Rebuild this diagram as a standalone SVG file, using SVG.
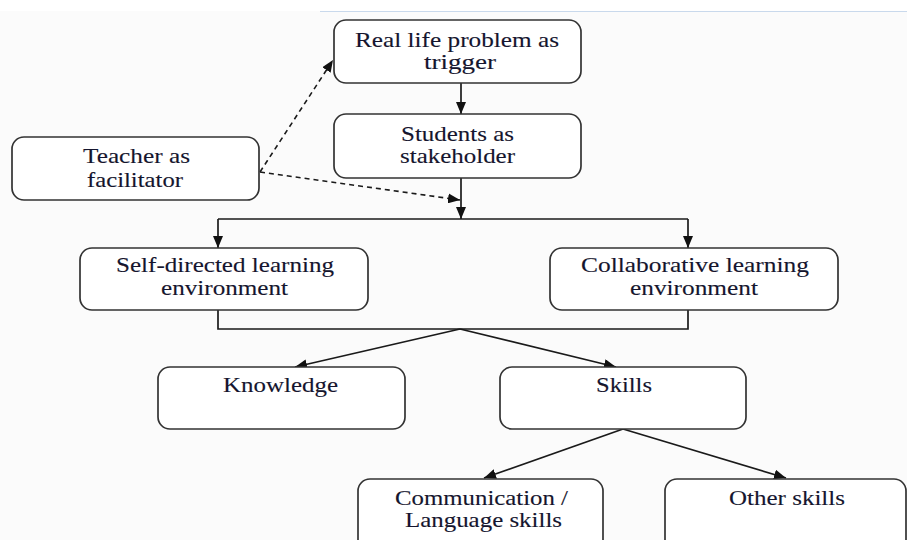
<svg xmlns="http://www.w3.org/2000/svg" width="907" height="540" viewBox="0 0 907 540">
<style>
.box{fill:#ffffff;stroke:#333;stroke-width:1.7}
.t{font-family:"Liberation Serif","Times New Roman",serif;font-size:21px;fill:#15152e;stroke:#15152e;stroke-width:0.12;text-anchor:middle}
.ln{fill:none;stroke:#1a1a1a;stroke-width:1.7}
.dash{fill:none;stroke:#1a1a1a;stroke-width:1.6;stroke-dasharray:5 4}
</style>
<defs>
<marker id="ah" viewBox="0 0 12 10" refX="12" refY="5" markerWidth="12" markerHeight="10" markerUnits="userSpaceOnUse" orient="auto">
<path d="M0,0 L12,5 L0,10 Z" fill="#111"/>
</marker>
</defs>
<rect x="0" y="0" width="907" height="540" fill="#fbfbfb"/>
<rect x="0" y="0" width="907" height="11" fill="#ffffff"/>
<line x1="320" y1="11.5" x2="907" y2="11.5" stroke="#c9d9ec" stroke-width="1.2"/>

<g id="connectors">
<line class="ln" x1="461" y1="83" x2="461" y2="114" marker-end="url(#ah)"/>
<line class="ln" x1="461" y1="178" x2="461" y2="219" marker-end="url(#ah)"/>
<polyline class="ln" points="218,219 688,219"/>
<line class="ln" x1="218" y1="219" x2="218" y2="248" marker-end="url(#ah)"/>
<line class="ln" x1="688" y1="219" x2="688" y2="248" marker-end="url(#ah)"/>
<line class="dash" x1="260" y1="172" x2="333" y2="60" marker-end="url(#ah)"/>
<line class="dash" x1="260" y1="172" x2="460" y2="200" marker-end="url(#ah)"/>
<polyline class="ln" points="218,310 218,329 688,329 688,310"/>
<line class="ln" x1="460" y1="329" x2="295" y2="367" marker-end="url(#ah)"/>
<line class="ln" x1="460" y1="329" x2="616" y2="367" marker-end="url(#ah)"/>
<line class="ln" x1="623" y1="429" x2="484" y2="478" marker-end="url(#ah)"/>
<line class="ln" x1="623" y1="429" x2="786" y2="478" marker-end="url(#ah)"/>
</g>

<g id="real-life">
<rect class="box" x="334" y="20" width="247" height="63" rx="12"/>
<text class="t" x="457" y="47" textLength="204" lengthAdjust="spacingAndGlyphs">Real life problem as</text>
<text class="t" x="460" y="69" textLength="72" lengthAdjust="spacingAndGlyphs">trigger</text>
</g>
<g id="students">
<rect class="box" x="334" y="114" width="247" height="64" rx="12"/>
<text class="t" x="457.5" y="141" textLength="113" lengthAdjust="spacingAndGlyphs">Students as</text>
<text class="t" x="457.5" y="163" textLength="115" lengthAdjust="spacingAndGlyphs">stakeholder</text>
</g>
<g id="teacher">
<rect class="box" x="12" y="137" width="247" height="63" rx="12"/>
<text class="t" x="136.5" y="163" textLength="107" lengthAdjust="spacingAndGlyphs">Teacher as</text>
<text class="t" x="135" y="187" textLength="96" lengthAdjust="spacingAndGlyphs">facilitator</text>
</g>
<g id="self-directed">
<rect class="box" x="80" y="248" width="288" height="62" rx="12"/>
<text class="t" x="225" y="272" textLength="218" lengthAdjust="spacingAndGlyphs">Self-directed learning</text>
<text class="t" x="224.5" y="295" textLength="127" lengthAdjust="spacingAndGlyphs">environment</text>
</g>
<g id="collaborative">
<rect class="box" x="550" y="248" width="288" height="62" rx="12"/>
<text class="t" x="695" y="272" textLength="228" lengthAdjust="spacingAndGlyphs">Collaborative learning</text>
<text class="t" x="694" y="295" textLength="128" lengthAdjust="spacingAndGlyphs">environment</text>
</g>
<g id="knowledge">
<rect class="box" x="158" y="367" width="247" height="62" rx="12"/>
<text class="t" x="280.5" y="392" textLength="115" lengthAdjust="spacingAndGlyphs">Knowledge</text>
</g>
<g id="skills">
<rect class="box" x="500" y="367" width="246" height="62" rx="12"/>
<text class="t" x="624" y="392" textLength="56" lengthAdjust="spacingAndGlyphs">Skills</text>
</g>
<g id="communication">
<rect class="box" x="358" y="479" width="245" height="80" rx="12"/>
<text class="t" x="481.5" y="505" textLength="173" lengthAdjust="spacingAndGlyphs">Communication /</text>
<text class="t" x="483.5" y="527" textLength="157" lengthAdjust="spacingAndGlyphs">Language skills</text>
</g>
<g id="other-skills">
<rect class="box" x="665" y="479" width="241" height="80" rx="12"/>
<text class="t" x="787" y="505" textLength="116" lengthAdjust="spacingAndGlyphs">Other skills</text>
</g>
</svg>
